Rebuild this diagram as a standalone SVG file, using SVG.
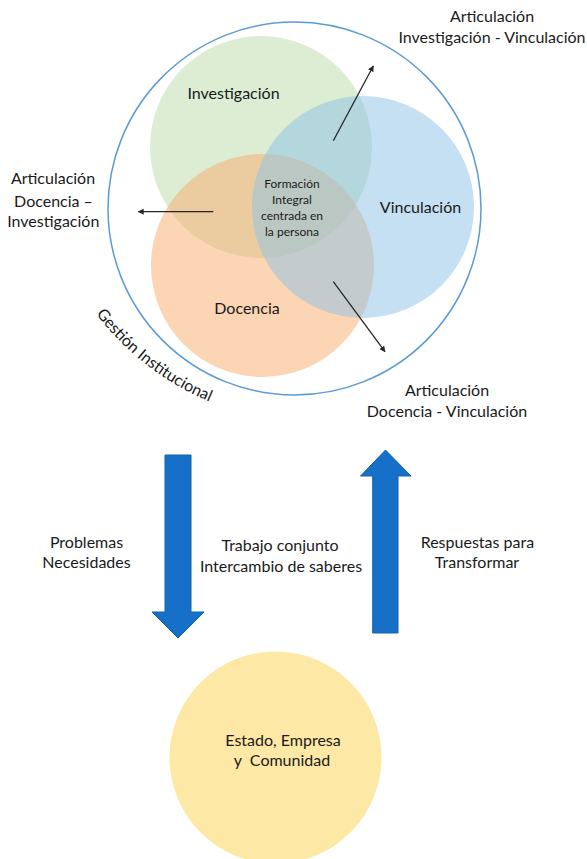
<svg xmlns="http://www.w3.org/2000/svg" width="587" height="859" viewBox="0 0 587 859">
<defs>
<style>
text{font-family:Lato,"Liberation Sans",sans-serif;font-size:16px;fill:#1a1a1a;text-anchor:middle}
.small{font-size:12px}
.thin{stroke:#262626;stroke-width:1.3;fill:none;marker-end:url(#ah)}
.big{fill:#1670c8;stroke:#1262b2;stroke-width:1}
</style>
<marker id="ah" viewBox="0 0 10 10" refX="9" refY="5" markerWidth="6" markerHeight="6" markerUnits="userSpaceOnUse" orient="auto"><path d="M0,0 L10,5 L0,10 z" fill="#262626"/></marker>
<path id="gpath" d="M96,314 A280,280 0 0 0 218,405"/>
</defs>
<rect width="587" height="859" fill="#ffffff"/>
<g id="gestion">
<circle cx="294.5" cy="208.5" r="186.5" fill="none" stroke="#5b9bd5" stroke-width="1.5"/>
<text style="text-anchor:start"><textPath href="#gpath">Gestión Institucional</textPath></text>
</g>
<g id="investigacion">
<circle cx="261" cy="147" r="111" fill="#b9dba9" fill-opacity="0.5"/>
<text x="233.5" y="99">Investigación</text>
</g>
<g id="docencia">
<circle cx="262.5" cy="265.5" r="111.5" fill="#f9ab6b" fill-opacity="0.5"/>
<text x="247" y="314">Docencia</text>
</g>
<g id="vinculacion">
<circle cx="363" cy="207" r="111" fill="#89c1e5" fill-opacity="0.5"/>
<text x="420.5" y="212.5">Vinculación</text>
</g>
<g id="formacion">
<text class="small" x="292" y="188.3">Formación</text>
<text class="small" x="292" y="204">Integral</text>
<text class="small" x="292" y="220">centrada en</text>
<text class="small" x="292" y="235.5">la persona</text>
</g>
<g id="art-iv">
<text x="492" y="22">Articulación</text>
<text x="492" y="43.3">Investigación - Vinculación</text>
</g>
<g id="art-di">
<text x="53" y="184">Articulación</text>
<text x="53.5" y="206.5">Docencia –</text>
<text x="53.3" y="226.7">Investigación</text>
</g>
<g id="art-dv">
<text x="447" y="396">Articulación</text>
<text x="447" y="416.5">Docencia - Vinculación</text>
</g>
<g id="comunidad">
<circle cx="275.5" cy="757.5" r="106" fill="#fde8a6"/>
<text x="283" y="745.5">Estado, Empresa</text>
<text x="282" y="766" style="white-space:pre">y  Comunidad</text>
</g>
<g id="problemas">
<text x="86.5" y="548.3">Problemas</text>
<text x="86.5" y="568.3">Necesidades</text>
</g>
<g id="trabajo">
<text x="280" y="550.5">Trabajo conjunto</text>
<text x="281" y="571.5">Intercambio de saberes</text>
</g>
<g id="respuestas">
<text x="477.4" y="548">Respuestas para</text>
<text x="477" y="568.3">Transformar</text>
</g>
<g id="connectors">
<line class="thin" x1="333.3" y1="140.7" x2="373.3" y2="66"/>
<line class="thin" x1="213.3" y1="211.7" x2="138.3" y2="211.7"/>
<line class="thin" x1="333.3" y1="281.7" x2="385" y2="351.7"/>
<polygon class="big" points="165,455 191,455 191,612 204,612 178,638 152,612 165,612"/>
<polygon class="big" points="385.5,450 411,476 398,476 398,633 372.7,633 372.7,476 360.5,476"/>
</g>
</svg>
